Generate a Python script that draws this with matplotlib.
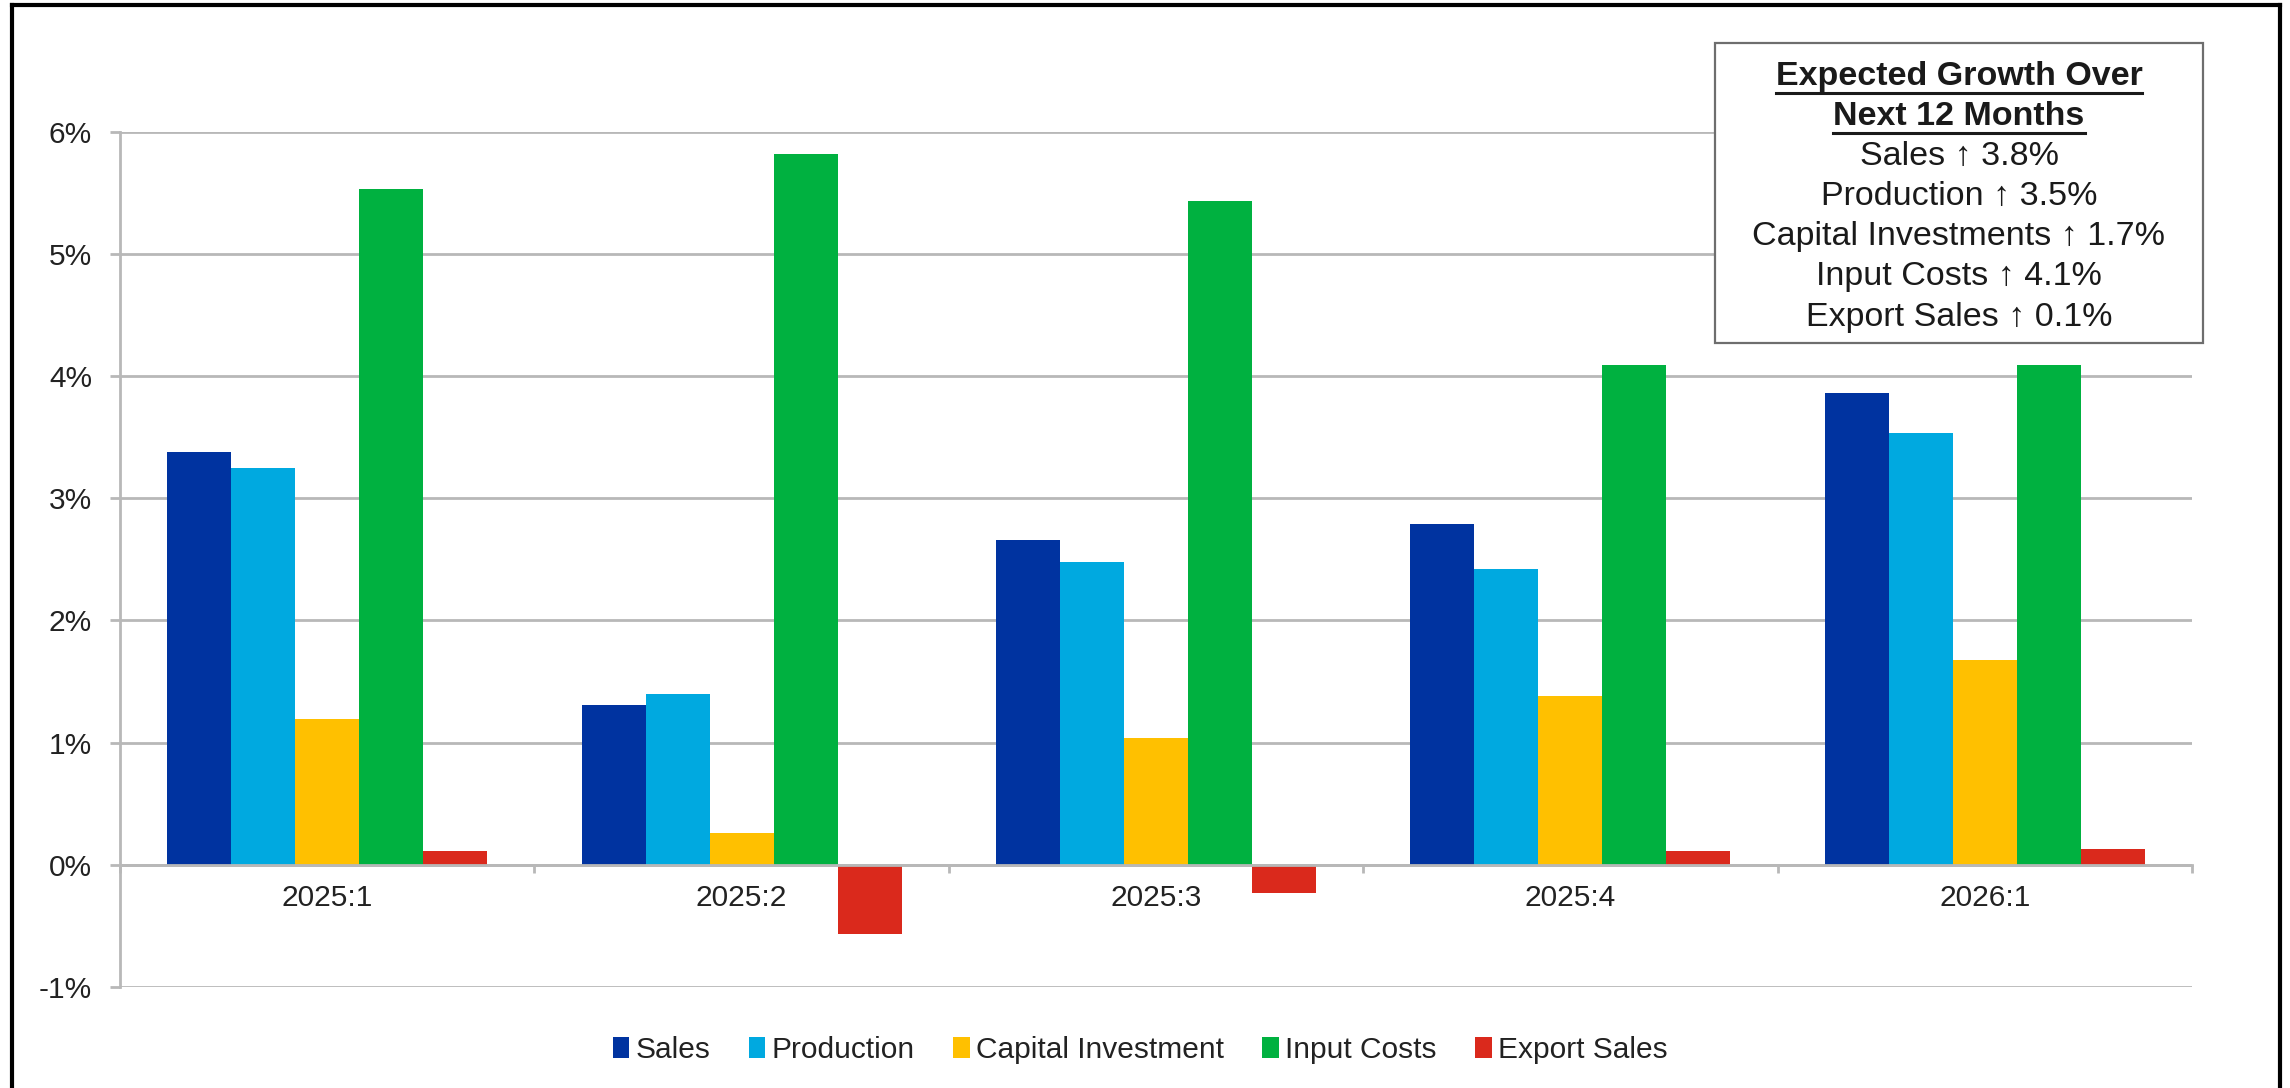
import numpy as np
import matplotlib
matplotlib.use("Agg")
import matplotlib.pyplot as plt
from matplotlib.patches import Patch, Rectangle
from matplotlib.lines import Line2D
from matplotlib.ticker import FuncFormatter, FixedLocator

plt.rcParams['font.family'] = ['Liberation Sans', 'DejaVu Sans']

# survey results, percent change by quarter
quarters = ["2025:1", "2025:2", "2025:3", "2025:4", "2026:1"]
sales = [3.38, 1.31, 2.66, 2.79, 3.86]
production = [3.25, 1.40, 2.48, 2.42, 3.53]
capital = [1.19, 0.26, 1.04, 1.38, 1.68]
input_costs = [5.53, 5.82, 5.43, 4.09, 4.09]
export_sales = [0.11, -0.57, -0.23, 0.11, 0.13]

names = ["Sales", "Production", "Capital Investment", "Input Costs", "Export Sales"]
colors = ["#0033a0", "#00a9e0", "#ffc000", "#00b140", "#da291c"]

box_title = ["Expected Growth Over", "Next 12 Months"]
box_lines = ["Sales \u2191 3.8%", "Production \u2191 3.5%", "Capital Investments \u2191 1.7%",
             "Input Costs \u2191 4.1%", "Export Sales \u2191 0.1%"]

W, H = 2290, 1088
fig = plt.figure(figsize=(W / 100, H / 100), dpi=100)
ax = fig.add_axes([120 / W, 1 - 987 / H, 2072 / W, (987 - 131.7) / H])

series = [sales, production, capital, input_costs, export_sales]
x = np.arange(len(quarters))
bw = 0.1545
for i, vals in enumerate(series):
    ax.bar(x + (i - 2) * bw, vals, width=bw, color=colors[i], label=names[i], zorder=3)

grid_c = "#b8b8b8"
lw = 2.0
ax.set_xlim(-0.5, len(quarters) - 0.5)
ax.set_ylim(-1, 6)
ax.set_yticks(range(-1, 7))
ax.yaxis.set_major_formatter(FuncFormatter(lambda v, p: f"{v:.0f}%"))
ax.grid(axis='y', color=grid_c, linewidth=lw, zorder=0)

for s in ['top', 'right']:
    ax.spines[s].set_visible(False)
ax.spines['left'].set_color(grid_c)
ax.spines['left'].set_linewidth(lw)
ax.spines['bottom'].set_position(('data', 0))
ax.spines['bottom'].set_color(grid_c)
ax.spines['bottom'].set_linewidth(lw)
ax.spines['bottom'].set_zorder(4)

# category boundaries get the tick marks, labels sit at the centres
ax.xaxis.set_major_locator(FixedLocator(np.arange(-0.5, len(quarters), 1.0)))
ax.xaxis.set_major_formatter(FuncFormatter(lambda v, p: ""))
ax.set_xticks(x, quarters, minor=True)
ax.tick_params(axis='x', which='major', direction='out', length=6, width=lw, color=grid_c)
ax.tick_params(axis='x', which='minor', length=0, pad=14, labelsize=21.5, labelcolor="#222222")
ax.tick_params(axis='y', direction='out', length=7, width=lw, color=grid_c,
               pad=13, labelsize=21.5, labelcolor="#222222")

handles = [Patch(facecolor=c, edgecolor='none') for c in colors]
fig.legend(handles, names, loc='center', bbox_to_anchor=(1140 / W, 1 - 1050 / H),
           ncol=5, frameon=False, fontsize=21.5, handlelength=0.55, handleheight=0.7,
           handletextpad=0.2, columnspacing=1.3, labelcolor="#222222")

# outer frame (open at the bottom)
for xs, ys in [([12, 12], [H + 10, 5]), ([12, 2280], [5, 5]), ([2280, 2280], [5, H + 10])]:
    fig.add_artist(Line2D([v / W for v in xs], [1 - v / H for v in ys],
                          color="black", linewidth=3, transform=fig.transFigure))

# growth summary box
bx0, bx1, by0, by1 = 1715, 2203, 43, 343
fig.add_artist(Rectangle((bx0 / W, 1 - by1 / H), (bx1 - bx0) / W, (by1 - by0) / H,
                         transform=fig.transFigure, facecolor="white", edgecolor="#6e6e6e",
                         linewidth=1.6, zorder=5))
cx = (bx0 + bx1) / 2 / W
titles = []
for k, line in enumerate(box_title + box_lines):
    yy = 1 - (76 + 40.2 * k) / H
    t = fig.text(cx, yy, line, ha='center', va='center', fontsize=24.5,
                 fontweight='bold' if k < 2 else 'normal', color="#1a1a1a", zorder=6)
    if k < 2:
        titles.append(t)

fig.canvas.draw()
r = fig.canvas.get_renderer()
for t in titles:
    bb = t.get_window_extent(r)
    yl = (bb.y0 - 1) / H
    fig.add_artist(Line2D([bb.x0 / W, bb.x1 / W], [yl, yl], color="#1a1a1a",
                          linewidth=2.2, transform=fig.transFigure, zorder=6))

fig.savefig("out.png", dpi=100)
